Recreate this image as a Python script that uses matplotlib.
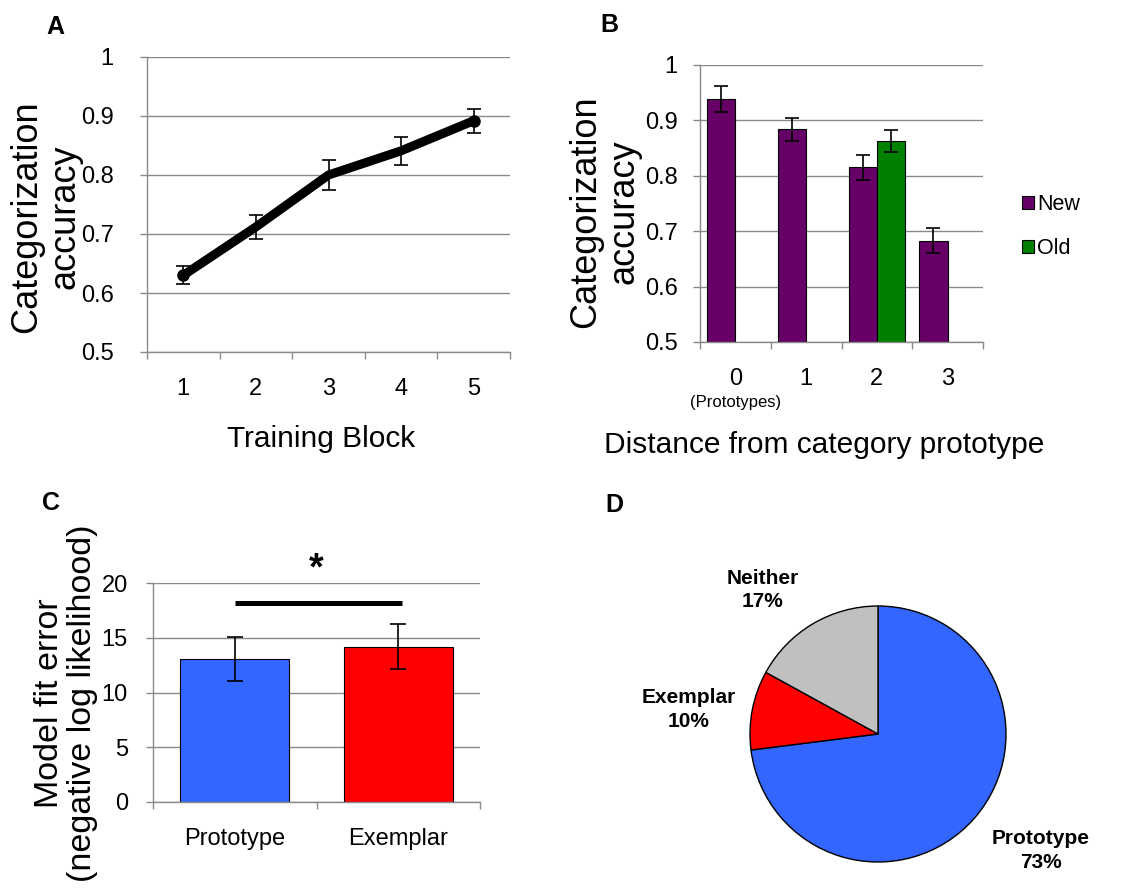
import matplotlib
matplotlib.use("Agg")
import matplotlib.pyplot as plt
import numpy as np

plt.rcParams['font.family'] = ['Liberation Sans', 'DejaVu Sans']

# ---------------- data ----------------
# Panel A
blocks = [1, 2, 3, 4, 5]
acc_block = [0.630, 0.712, 0.800, 0.841, 0.892]
acc_block_err = [0.015, 0.021, 0.026, 0.024, 0.020]

# Panel B
distances = [0, 1, 2, 3]
new_acc = [0.939, 0.884, 0.815, 0.683]
new_err = [0.023, 0.021, 0.022, 0.022]
old_dist = [2]
old_acc = [0.863]
old_err = [0.020]

# Panel C
models = ["Prototype", "Exemplar"]
fit_error = [13.05, 14.2]
fit_error_err = [2.0, 2.05]
sig_level = 18.2

# Panel D
strategies = ["Prototype", "Exemplar", "Neither"]
strategy_pct = [73, 10, 17]

# --------------- styling ---------------
W, H = 1136, 890
GRID = '#8a8a8a'
PURPLE = '#660066'
GREEN = '#008000'
BLUE = '#3366FF'
RED = '#FF0000'
GRAY = '#C0C0C0'
TICK_FS = 17
YLAB_FS = 26
XLAB_FS = 21.5

fig = plt.figure(figsize=(W / 100, H / 100), dpi=100)


def px_axes(left, top, right, bottom):
    return fig.add_axes([left / W, 1 - bottom / H, (right - left) / W, (bottom - top) / H])


def style_axes(ax, ypad):
    for s in ['top', 'right']:
        ax.spines[s].set_visible(False)
    for s in ['left', 'bottom']:
        ax.spines[s].set_color(GRID)
        ax.spines[s].set_linewidth(1.0)
    ax.yaxis.grid(True, color=GRID, linewidth=1.0)
    ax.set_axisbelow(True)
    ax.tick_params(axis='y', which='major', direction='out', length=5, width=1,
                   color=GRID, labelsize=TICK_FS, pad=ypad)
    ax.tick_params(axis='x', which='major', direction='out', length=5, width=1,
                   color=GRID, labelbottom=False)


def category_ticks(ax, centers, labels, xpad):
    c = np.asarray(centers, dtype=float)
    bounds = np.concatenate([c - 0.5, [c[-1] + 0.5]])
    ax.set_xticks(bounds)
    ax.set_xticks(c, minor=True)
    ax.set_xticklabels(labels, minor=True)
    ax.tick_params(axis='x', which='minor', length=0, labelsize=TICK_FS, pad=xpad)
    ax.set_xlim(bounds[0], bounds[-1])


# ---------------- Panel A ----------------
axA = px_axes(147, 57, 510, 352)
style_axes(axA, ypad=19)
axA.errorbar(blocks, acc_block, yerr=acc_block_err, fmt='none', ecolor='black',
             elinewidth=1.2, capsize=5, capthick=1.2, zorder=3)
axA.plot(blocks, acc_block, color='black', linewidth=6.5, solid_capstyle='round',
         solid_joinstyle='round', zorder=4)
axA.plot([blocks[0], blocks[-1]], [acc_block[0], acc_block[-1]], 'o', color='black',
         markersize=8, zorder=5)
axA.set_ylim(0.5, 1.0)
axA.set_yticks([0.5, 0.6, 0.7, 0.8, 0.9, 1.0])
axA.set_yticklabels(['0.5', '0.6', '0.7', '0.8', '0.9', '1'])
category_ticks(axA, blocks, [str(b) for b in blocks], xpad=19)
axA.set_xlabel('Training Block', fontsize=XLAB_FS)
axA.xaxis.set_label_coords(0.479, -0.248)
axA.set_ylabel('Categorization\naccuracy', fontsize=YLAB_FS, linespacing=1.12)
axA.yaxis.set_label_coords(-0.178, 0.458)

# ---------------- Panel B ----------------
axB = px_axes(700, 65, 983, 342)
style_axes(axB, ypad=11)
bw = 0.4
xn = np.asarray(distances, dtype=float) - bw / 2
xo = np.asarray(old_dist, dtype=float) + bw / 2
axB.bar(xn, [v - 0.5 for v in new_acc], bottom=0.5, width=bw, color=PURPLE,
        edgecolor='black', linewidth=0.8, label='New', zorder=2)
axB.bar(xo, [v - 0.5 for v in old_acc], bottom=0.5, width=bw, color=GREEN,
        edgecolor='black', linewidth=0.8, label='Old', zorder=2)
axB.errorbar(xn, new_acc, yerr=new_err, fmt='none', ecolor='black', elinewidth=1.2,
             capsize=5, capthick=1.2, zorder=3)
axB.errorbar(xo, old_acc, yerr=old_err, fmt='none', ecolor='black', elinewidth=1.2,
             capsize=5, capthick=1.2, zorder=3)
axB.set_ylim(0.5, 1.0)
axB.set_yticks([0.5, 0.6, 0.7, 0.8, 0.9, 1.0])
axB.set_yticklabels(['0.5', '0.6', '0.7', '0.8', '0.9', '1'])
category_ticks(axB, distances, [str(d) for d in distances], xpad=19)
axB.text(distances[0], -0.217, '(Prototypes)', transform=axB.get_xaxis_transform(),
         ha='center', va='center', fontsize=12)
axB.set_xlabel('Distance from category prototype', fontsize=XLAB_FS)
axB.xaxis.set_label_coords(0.438, -0.322)
axB.set_ylabel('Categorization\naccuracy', fontsize=YLAB_FS, linespacing=1.12)
axB.yaxis.set_label_coords(-0.206, 0.469)
axB.legend(loc='upper left', bbox_to_anchor=(1.138, 0.535), frameon=False, fontsize=15.5,
           handlelength=0.55, handleheight=0.55, handletextpad=0.15, labelspacing=1.1,
           borderpad=0, borderaxespad=0)

# ---------------- Panel C ----------------
axC = px_axes(153, 583, 480, 802)
style_axes(axC, ypad=13)
xc = np.arange(len(models))
axC.bar(xc, fit_error, width=0.667, color=[BLUE, RED], edgecolor='black',
        linewidth=0.8, zorder=2)
axC.errorbar(xc, fit_error, yerr=fit_error_err, fmt='none', ecolor='black',
             elinewidth=1.2, capsize=6, capthick=1.2, zorder=3)
axC.set_ylim(0, 20)
axC.set_yticks([0, 5, 10, 15, 20])
category_ticks(axC, xc, models, xpad=19)
axC.plot([xc[0], xc[1] + 0.02], [sig_level, sig_level], color='black', linewidth=3.6,
         solid_capstyle='butt', clip_on=False, zorder=4)
axC.text((xc[0] + xc[1]) / 2, sig_level + 3.0, '*', ha='center', va='center',
         fontsize=27, fontweight='bold')
axC.set_ylabel('Model fit error\n(negative log likelihood)', fontsize=24.5,
               linespacing=1.1)
axC.yaxis.set_label_coords(-0.168, 0.45)

# ---------------- Panel D ----------------
axD = px_axes(878 - 128, 734 - 128, 878 + 128, 734 + 128)
wedges, _ = axD.pie(strategy_pct, colors=[BLUE, RED, GRAY], startangle=90,
                    counterclock=False,
                    wedgeprops=dict(edgecolor='black', linewidth=1.0))
axD.set_xlim(-1, 1)
axD.set_ylim(-1, 1)
axD.set_aspect('equal')
label_xy = {'Prototype': (1.27, -0.91), 'Exemplar': (-1.48, 0.19), 'Neither': (-0.90, 1.125)}
for name, pct in zip(strategies, strategy_pct):
    x, y = label_xy[name]
    axD.text(x, y, f'{name}\n{pct}%', ha='center', va='center', fontsize=15,
             fontweight='bold', linespacing=1.3)

# ---------------- Panel letters ----------------
for letter, (x, y) in {'A': (55, 27), 'B': (609, 25), 'C': (51, 503), 'D': (614, 505)}.items():
    fig.text(x / W, 1 - y / H, letter, ha='center', va='center', fontsize=18,
             fontweight='bold')

fig.savefig('out.png', dpi=100)
